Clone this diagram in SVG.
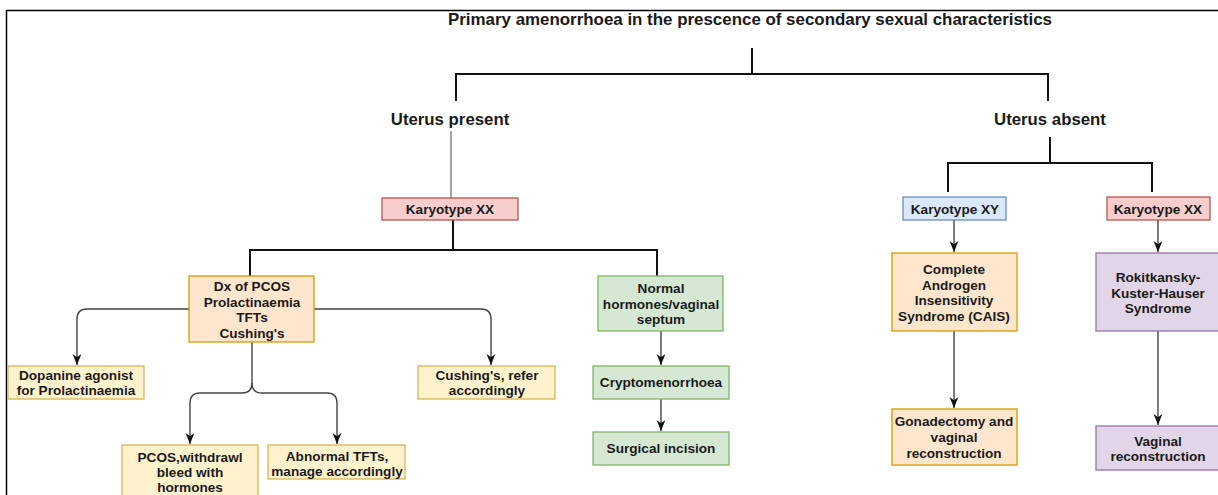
<svg xmlns="http://www.w3.org/2000/svg" width="1218" height="495" viewBox="0 0 1218 495">
<style>
.frame{fill:none;stroke:#000;stroke-width:1.5}
.main{fill:none;stroke:#111;stroke-width:2}
.thin{fill:none;stroke:#666;stroke-width:1.2}
.arr{fill:none;stroke:#444;stroke-width:1.4;marker-end:url(#ah)}
.t{font-family:"Liberation Sans",Arial,sans-serif;font-weight:bold;fill:#1a1a1a;text-anchor:middle}
.title{font-size:16.5px}
.head{font-size:16.8px}
.bx{font-size:13.6px}
.red{fill:#f8cecc;stroke:#b85450}
.blue{fill:#dae8fc;stroke:#6c8ebf}
.orange{fill:#ffe6cc;stroke:#d79b00}
.yellow{fill:#fff2cc;stroke:#d6b656}
.green{fill:#d5e8d4;stroke:#82b366}
.purple{fill:#e1d5e7;stroke:#9673a6}
rect{stroke-width:1.3}
</style>
<defs>
<marker id="ah" viewBox="0 0 10 10" refX="10" refY="5" markerWidth="11" markerHeight="11" markerUnits="userSpaceOnUse" orient="auto">
<path d="M0,1 L10,5 L0,9 L3,5 z" fill="#111"/>
</marker>
</defs>
<rect x="0" y="0" width="1218" height="495" fill="#fff" stroke="none"/>
<path class="frame" d="M6.5,495 V10.5 H1218"/>

<g id="connectors">
<path class="main" d="M752,48 V74"/>
<path class="main" d="M456,101 V74 H1048 V101"/>
<path class="thin" d="M451,131 V198"/>
<path class="main" d="M453,220 V250"/>
<path class="main" d="M250,276 V250 H657 V276"/>
<path class="arr" d="M189,309 H87 Q77,309 77,319 V365"/>
<path class="arr" d="M314,309 H481 Q491,309 491,319 V365"/>
<path class="arr" d="M252,342 V383 Q252,393 242,393 H200 Q190,393 190,403 V444"/>
<path class="arr" d="M252,383 Q252,393 262,393 H327 Q337,393 337,403 V444"/>
<path class="arr" d="M661,331 V365"/>
<path class="arr" d="M661,399 V431"/>
<path class="main" d="M1050,137 V163"/>
<path class="main" d="M948,192 V163 H1152 V192"/>
<path class="arr" d="M954,220 V252"/>
<path class="arr" d="M954,331 V408"/>
<path class="arr" d="M1158,220 V252"/>
<path class="arr" d="M1158,331 V425"/>
</g>

<g id="title"><text class="t title" x="750" y="25" textLength="604" lengthAdjust="spacingAndGlyphs">Primary amenorrhoea in the prescence of secondary sexual characteristics</text></g>
<g id="uterus-present"><text class="t head" x="450" y="125">Uterus present</text></g>
<g id="uterus-absent"><text class="t head" x="1050" y="125">Uterus absent</text></g>

<g id="karyotype-xx-left"><rect class="red" x="382" y="198" width="136" height="22"/><text class="t bx" x="450" y="214">Karyotype XX</text></g>

<g id="dx"><rect class="orange" x="189" y="276" width="125" height="66"/>
<text class="t bx" x="252"><tspan x="252" y="291">Dx of PCOS</tspan><tspan x="252" y="306.5">Prolactinaemia</tspan><tspan x="252" y="322">TFTs</tspan><tspan x="252" y="337.5">Cushing's</tspan></text></g>

<g id="dopamine"><rect class="yellow" x="8" y="366" width="136" height="33"/>
<text class="t bx"><tspan x="76" y="380">Dopanine agonist</tspan><tspan x="76" y="395">for Prolactinaemia</tspan></text></g>

<g id="cushings"><rect class="yellow" x="418" y="366" width="137" height="33"/>
<text class="t bx"><tspan x="487" y="380">Cushing's, refer</tspan><tspan x="487" y="395">accordingly</tspan></text></g>

<g id="pcos"><rect class="yellow" x="122" y="445" width="136" height="60"/>
<text class="t bx"><tspan x="190" y="461.5">PCOS,withdrawl</tspan><tspan x="190" y="476.5">bleed with</tspan><tspan x="190" y="491.5">hormones</tspan></text></g>

<g id="tfts"><rect class="yellow" x="268" y="445" width="137" height="34"/>
<text class="t bx"><tspan x="337" y="460.5">Abnormal TFTs,</tspan><tspan x="337" y="475.5">manage accordingly</tspan></text></g>

<g id="normal"><rect class="green" x="598" y="276" width="125" height="55"/>
<text class="t bx"><tspan x="661" y="292.5">Normal</tspan><tspan x="661" y="308.5">hormones/vaginal</tspan><tspan x="661" y="323.5">septum</tspan></text></g>

<g id="crypto"><rect class="green" x="593" y="366" width="136" height="33"/>
<text class="t bx" x="661" y="387">Cryptomenorrhoea</text></g>

<g id="surgical"><rect class="green" x="593" y="432" width="136" height="33"/>
<text class="t bx" x="661" y="453">Surgical incision</text></g>

<g id="karyotype-xy"><rect class="blue" x="903" y="197" width="103" height="23"/>
<text class="t bx" x="955" y="213.5">Karyotype XY</text></g>

<g id="karyotype-xx-right"><rect class="red" x="1107" y="197" width="103" height="23"/>
<text class="t bx" x="1158" y="213.5">Karyotype XX</text></g>

<g id="cais"><rect class="orange" x="892" y="253" width="125" height="78"/>
<text class="t bx"><tspan x="954" y="273.5">Complete</tspan><tspan x="954" y="289.5">Androgen</tspan><tspan x="954" y="304.5">Insensitivity</tspan><tspan x="954" y="320.5">Syndrome (CAIS)</tspan></text></g>

<g id="gonadectomy"><rect class="orange" x="892" y="409" width="125" height="56"/>
<text class="t bx"><tspan x="954" y="425.5">Gonadectomy and</tspan><tspan x="954" y="441.5">vaginal</tspan><tspan x="954" y="457.5">reconstruction</tspan></text></g>

<g id="rokitansky"><rect class="purple" x="1096" y="253" width="124" height="78"/>
<text class="t bx"><tspan x="1158" y="281.5">Rokitkansky-</tspan><tspan x="1158" y="297.5">Kuster-Hauser</tspan><tspan x="1158" y="312.5">Syndrome</tspan></text></g>

<g id="vaginal"><rect class="purple" x="1096" y="426" width="124" height="44"/>
<text class="t bx"><tspan x="1158" y="445.5">Vaginal</tspan><tspan x="1158" y="460.5">reconstruction</tspan></text></g>
</svg>
